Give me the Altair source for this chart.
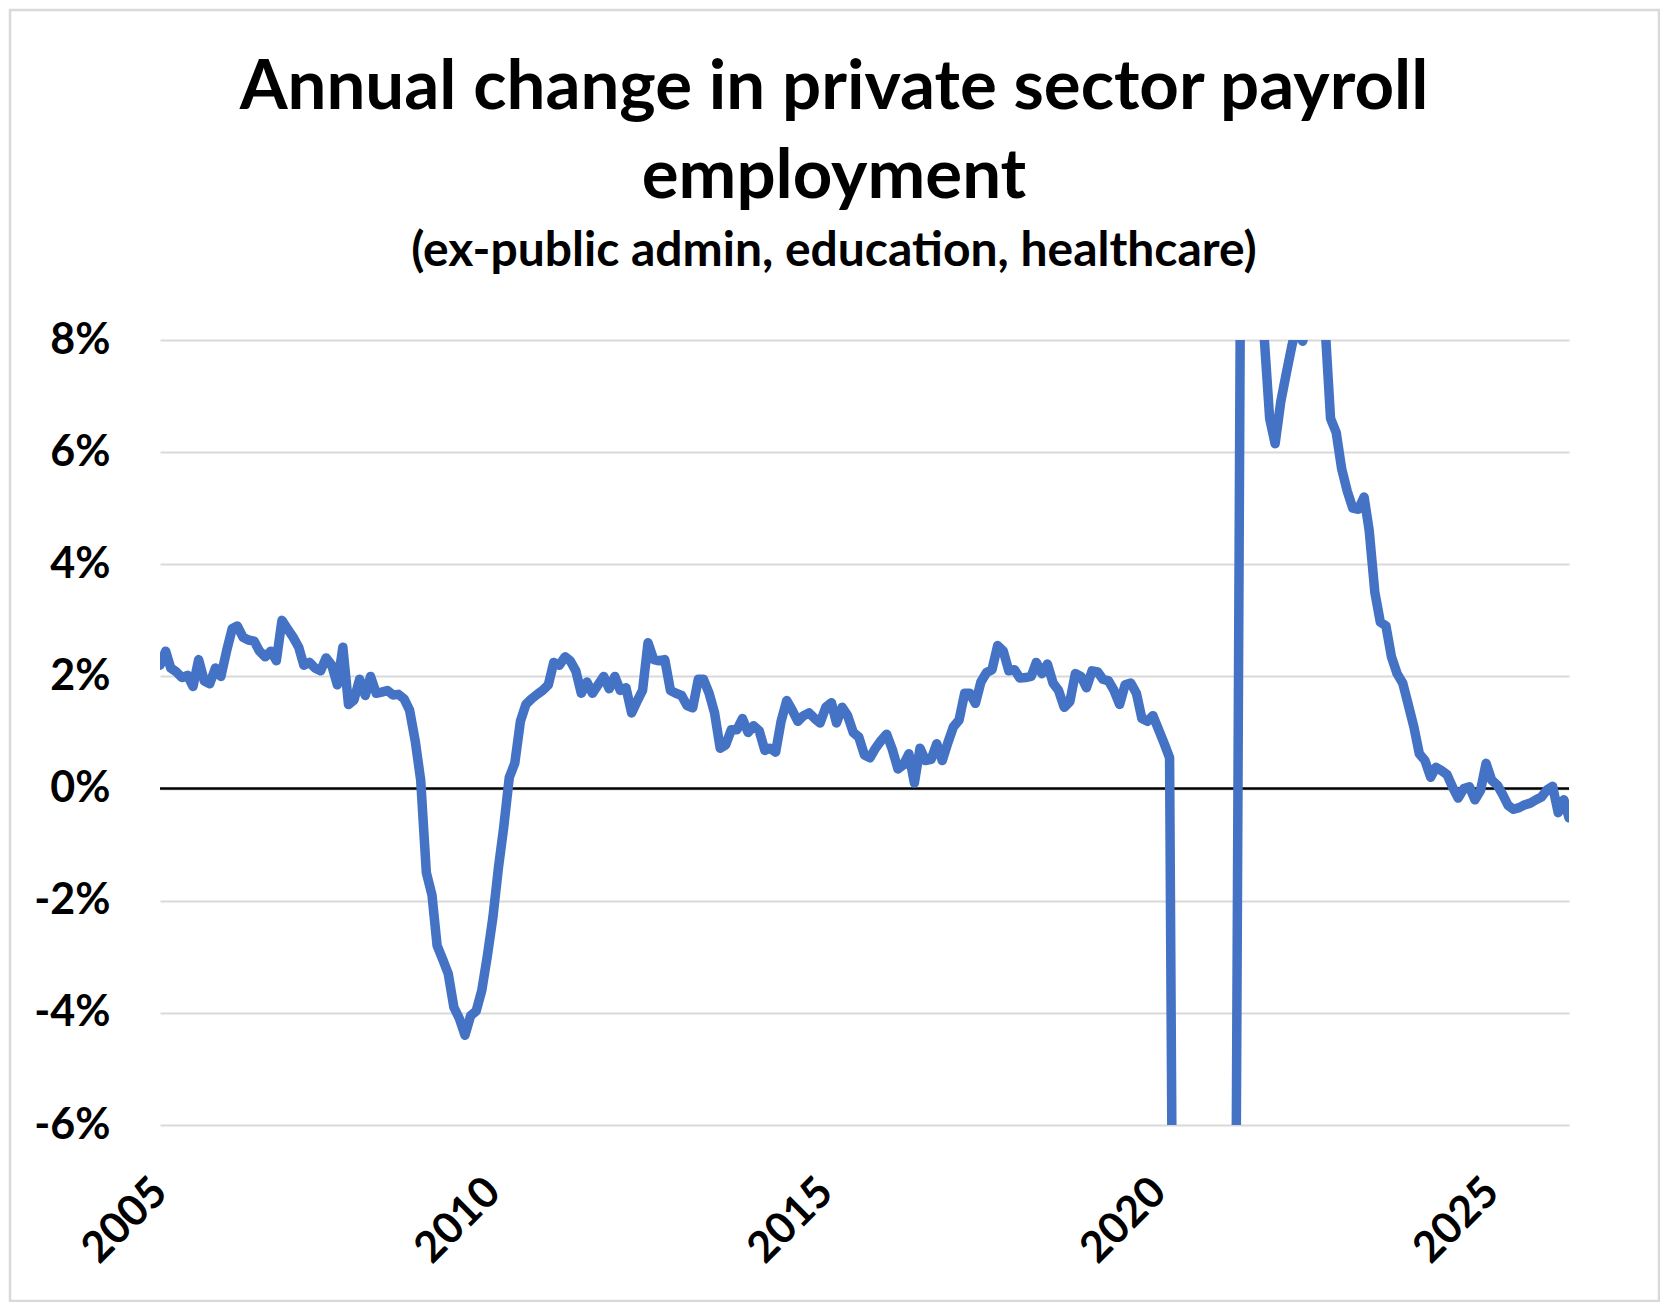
import altair as alt
import pandas as pd

# Monthly annual % change, Jan 2005 - Mar 2026
values = [
    2.2, 2.45, 2.15, 2.08, 1.98, 2.02, 1.82, 2.3, 1.92, 1.87, 2.15, 2.0,        # 2005
    2.45, 2.85, 2.9, 2.7, 2.65, 2.63, 2.45, 2.35, 2.45, 2.28, 3.0, 2.85,        # 2006
    2.7, 2.52, 2.2, 2.25, 2.15, 2.1, 2.33, 2.2, 1.85, 2.52, 1.5, 1.58,          # 2007
    1.95, 1.66, 2.0, 1.7, 1.72, 1.75, 1.67, 1.68, 1.6, 1.4, 0.85, 0.15,         # 2008
    -1.5, -1.9, -2.8, -3.05, -3.3, -3.9, -4.1, -4.4, -4.05, -3.97, -3.6, -3.0,  # 2009
    -2.3, -1.4, -0.7, 0.2, 0.45, 1.2, 1.5, 1.6, 1.68, 1.75, 1.85, 2.25,         # 2010
    2.2, 2.35, 2.28, 2.1, 1.7, 1.9, 1.7, 1.85, 2.0, 1.78, 2.0, 1.75,            # 2011
    1.8, 1.35, 1.55, 1.75, 2.6, 2.3, 2.28, 2.3, 1.75, 1.7, 1.66, 1.48,          # 2012
    1.44, 1.95, 1.95, 1.7, 1.35, 0.72, 0.78, 1.05, 1.05, 1.25, 1.0, 1.12,       # 2013
    1.03, 0.68, 0.72, 0.65, 1.2, 1.57, 1.4, 1.2, 1.3, 1.35, 1.25, 1.17,         # 2014
    1.45, 1.53, 1.17, 1.45, 1.3, 1.0, 0.92, 0.6, 0.55, 0.72, 0.86, 0.97,        # 2015
    0.7, 0.35, 0.42, 0.62, 0.1, 0.72, 0.5, 0.52, 0.8, 0.5, 0.82, 1.1,           # 2016
    1.22, 1.7, 1.7, 1.52, 1.9, 2.07, 2.12, 2.55, 2.45, 2.1, 2.12, 1.97,         # 2017
    1.98, 2.0, 2.25, 2.05, 2.22, 1.88, 1.75, 1.45, 1.55, 2.05, 2.0, 1.8,        # 2018
    2.1, 2.08, 1.95, 1.92, 1.75, 1.5, 1.85, 1.88, 1.7, 1.25, 1.2, 1.3,          # 2019
    1.05, 0.8, 0.55, -16.0, -13.0, -10.5, -9.5, -8.8, -8.2, -7.8, -7.5, -7.7,   # 2020
    -7.9, -7.6, -6.8, 14.0, 11.0, 9.5, 9.2, 8.1, 6.6, 6.15, 6.9, 7.4,           # 2021
    7.9, 8.3, 7.98, 8.3, 8.4, 8.6, 8.3, 6.6, 6.35, 5.7, 5.3, 5.0,               # 2022
    4.98, 5.2, 4.6, 3.5, 2.97, 2.9, 2.35, 2.05, 1.88, 1.5, 1.1, 0.62,           # 2023
    0.5, 0.2, 0.38, 0.32, 0.25, 0.02, -0.17, 0.0, 0.03, -0.2, -0.03, 0.45,      # 2024
    0.15, 0.06, -0.1, -0.3, -0.37, -0.34, -0.29, -0.26, -0.2, -0.15, -0.02, 0.04,  # 2025
    -0.43, -0.2, -0.52,                                                         # 2026
]

dates = pd.date_range("2005-01-01", periods=len(values), freq="MS").strftime("%Y-%m-%d").tolist()
tick_years = [2005, 2010, 2015, 2020, 2025]
y_ticks = [-6, -4, -2, 0, 2, 4, 6, 8]

title_lines = ["Annual change in private sector payroll", "employment"]
subtitle = "(ex-public admin, education, healthcare)"

df = pd.DataFrame({"date": dates, "value": values})
one = pd.DataFrame({"k": [0]})
sub_df = pd.DataFrame({"t": [subtitle]})

FONT = "Lato"
W, H = 1409, 785
PAD = {"left": 152, "top": 332, "right": 91, "bottom": 177}
CX = 674  # horizontal centre of the whole page, relative to the plot's left edge

x_enc = alt.X(
    "date:T",
    scale=alt.Scale(
        type="utc",
        domain=[alt.DateTime(year=2005, month=1, date=1, utc=True),
                alt.DateTime(year=2026, month=3, date=1, utc=True)],
    ),
    axis=alt.Axis(
        values=[alt.DateTime(year=y, month=1, date=1, utc=True) for y in tick_years],
        format="%Y",
        labelAngle=-45,
        labelAlign="right",
        labelBaseline="middle",
        labelFont=FONT,
        labelFontWeight="bold",
        labelFontSize=43,
        labelColor="black",
        labelPadding=60,
        labelFlush=False,
        labelOverlap=False,
        grid=False,
        domain=False,
        ticks=False,
        tickSize=0,
        title=None,
    ),
)

y_enc = alt.Y(
    "value:Q",
    scale=alt.Scale(domain=[-6, 8], nice=False, zero=False),
    axis=alt.Axis(
        values=y_ticks,
        labelExpr="datum.value + '%'",
        labelFont=FONT,
        labelFontWeight="bold",
        labelFontSize=43,
        labelColor="black",
        labelPadding=50,
        labelFlush=False,
        grid=True,
        gridColor="#d9d9d9",
        gridWidth=2,
        domain=False,
        ticks=False,
        tickSize=0,
        title=None,
    ),
)

border = alt.Chart(one).mark_rect(fill="transparent", stroke="#d9d9d9", strokeWidth=2.5).encode(
    x=alt.value(-150), x2=alt.value(W + 90),
    y=alt.value(-330), y2=alt.value(H + 176),
)

title1 = alt.Chart(pd.DataFrame({"t": [title_lines[0]]})).mark_text(
    font=FONT, fontSize=69, fontWeight="bold", color="black", align="center", baseline="alphabetic"
).encode(text="t:N", x=alt.value(CX), y=alt.value(-231))

title2 = alt.Chart(pd.DataFrame({"t": [title_lines[1]]})).mark_text(
    font=FONT, fontSize=69, fontWeight="bold", color="black", align="center", baseline="alphabetic"
).encode(text="t:N", x=alt.value(CX), y=alt.value(-142))

sub = alt.Chart(sub_df).mark_text(
    font=FONT, fontSize=48, fontWeight="bold", color="black", align="center", baseline="alphabetic"
).encode(text="t:N", x=alt.value(CX), y=alt.value(-74))

zero_rule = alt.Chart(one).mark_rule(color="black", strokeWidth=2.4).encode(y=alt.datum(0))

line = alt.Chart(df).mark_line(
    color="#4472C4", strokeWidth=9.5, clip=True, strokeJoin="round", strokeCap="round"
).encode(x=x_enc, y=y_enc)

chart = alt.layer(border, title1, title2, sub, zero_rule, line).properties(
    width=W,
    height=H,
    autosize=alt.AutoSizeParams(type="none"),
    padding=PAD,
    background="white",
).configure_view(strokeWidth=0)

chart.save("out.html", embed_options={"renderer": "svg", "actions": False})
